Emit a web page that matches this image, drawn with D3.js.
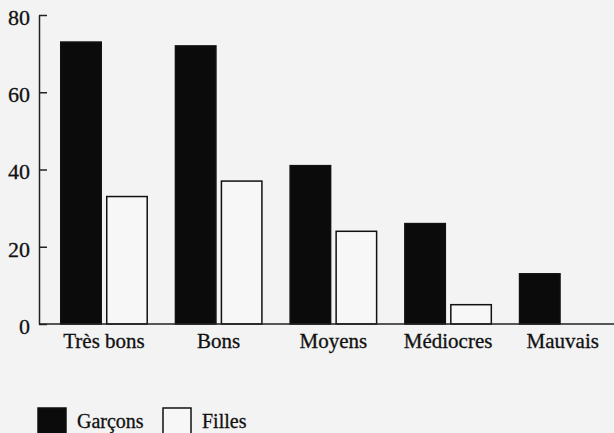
<!DOCTYPE html>
<html>
<head>
<meta charset="utf-8">
<script src="https://cdn.jsdelivr.net/npm/d3@7"></script>
<style>
  html, body { margin: 0; padding: 0; background: #f3f3f3; }
  svg { display: block; }
  text { font-family: "Liberation Serif", "DejaVu Serif", serif; fill: #111; stroke: #111; stroke-width: 0.3px; }
</style>
</head>
<body>
<svg id="chart" width="614" height="433"></svg>
<script>
const categories = ["Très bons", "Bons", "Moyens", "Médiocres", "Mauvais"];
const seriesNames = ["Garçons", "Filles"];
const garcons = [73, 72, 41, 26, 13];
const filles = [33, 37, 24, 5, 0];
const yTicks = [0, 20, 40, 60, 80];

const svg = d3.select("#chart");
const W = 614, H = 433;
svg.append("rect").attr("width", W).attr("height", H).attr("fill", "#f3f3f3");

const axisX = 39, baseY = 324, topY = 15;

const y = d3.scaleLinear().domain([0, 80]).range([baseY, topY]);

const x0 = d3.scaleBand()
  .domain(categories)
  .range([axisX, axisX + 114.7 * (5 - 0.233 + 2 * 0.183)])
  .paddingInner(0.233)
  .paddingOuter(0.183);

const x1 = d3.scaleBand()
  .domain(seriesNames)
  .range([0, x0.bandwidth()])
  .paddingInner(0.087);

const data = categories.map((c, i) => ({
  cat: c,
  values: [
    { s: "Garçons", v: garcons[i] },
    { s: "Filles", v: filles[i] }
  ]
}));

const fillFor = { "Garçons": "#0b0b0b", "Filles": "#f7f7f7" };

const groups = svg.append("g").selectAll("g")
  .data(data).join("g")
  .attr("transform", d => `translate(${x0(d.cat)},0)`);

groups.selectAll("rect")
  .data(d => d.values.filter(e => e.v > 0))
  .join("rect")
  .attr("x", e => x1(e.s) + 0.75)
  .attr("y", e => y(e.v))
  .attr("width", x1.bandwidth() - 1.5)
  .attr("height", e => y(0) - y(e.v))
  .attr("fill", e => fillFor[e.s])
  .attr("stroke", "#111")
  .attr("stroke-width", 1.5);

// Y axis: ticks pointing inward, labels on the left
const yAxis = d3.axisLeft(y)
  .tickValues(yTicks)
  .tickSizeInner(-8)
  .tickSizeOuter(0)
  .tickPadding(9)
  .tickFormat(d3.format("d"));

const gy = svg.append("g")
  .attr("transform", `translate(${axisX},0)`)
  .call(yAxis);
gy.select(".domain").attr("stroke", "#222").attr("stroke-width", 1.5);
gy.selectAll(".tick line").attr("stroke", "#222").attr("stroke-width", 1.5);
gy.selectAll(".tick text")
  .attr("font-size", 22)
  .attr("dy", "0.42em")
  .style("font-family", "'Liberation Serif', serif")
  .attr("fill", "#111");

// X baseline and category labels
const xAxis = d3.axisBottom(x0).tickSize(0).tickPadding(24);
const gx = svg.append("g")
  .attr("transform", `translate(0,${baseY})`)
  .call(xAxis);
gx.select(".domain").remove();
gx.selectAll(".tick text")
  .attr("font-size", 21)
  .attr("dy", 0)
  .attr("y", 24)
  .style("font-family", "'Liberation Serif', serif")
  .attr("fill", "#111");

svg.append("line")
  .attr("x1", axisX).attr("x2", W)
  .attr("y1", baseY).attr("y2", baseY)
  .attr("stroke", "#222").attr("stroke-width", 1.5);

// Legend
const legendX = [38, 163];
const legend = svg.append("g").selectAll("g")
  .data(seriesNames).join("g")
  .attr("transform", (d, i) => `translate(${legendX[i]},408)`);
legend.append("rect")
  .attr("width", 28).attr("height", 28)
  .attr("fill", d => fillFor[d])
  .attr("stroke", "#111").attr("stroke-width", 1.5);
legend.append("text")
  .attr("x", 39).attr("y", 19.5)
  .attr("font-size", 20)
  .text(d => d);
</script>
</body>
</html>
